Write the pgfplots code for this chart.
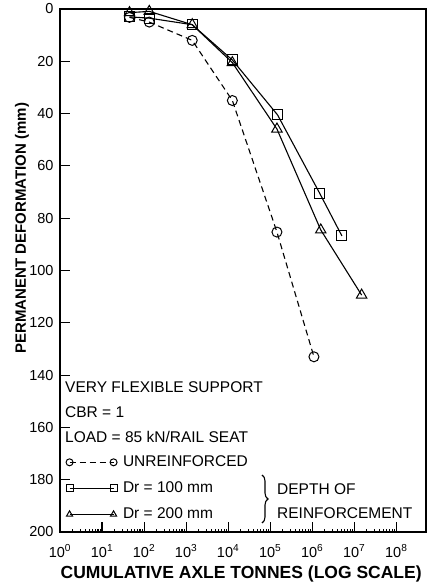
\documentclass[border=0pt]{standalone}
\usepackage{pgfplots}
\pgfplotsset{compat=1.18}
\usepackage{fontspec}
\setmainfont{Liberation Sans}
\usetikzlibrary{decorations.pathreplacing}
\begin{document}
\begin{tikzpicture}
\begin{axis}[
  scale only axis,
  width=366bp, height=523bp,
  xmode=log,
  xmin=1, xmax=5.1e8,
  ymin=0, ymax=200,
  y dir=reverse,
  ytick={0,20,...,200},
  xtick={1,10,100,1000,10000,100000,1000000,10000000,100000000},
  xticklabels={10\textsuperscript{0},10\textsuperscript{1},10\textsuperscript{2},10\textsuperscript{3},10\textsuperscript{4},10\textsuperscript{5},10\textsuperscript{6},10\textsuperscript{7},10\textsuperscript{8}},
  xtick pos=bottom, ytick pos=left,
  tick align=inside,
  major tick length=10bp,
  minor tick num=0,
  log ticks with fixed point=false,
  /pgf/number format/assume math mode=true,
  tick label style={font=\fontsize{14.5bp}{17bp}\selectfont},
  yticklabel style={anchor=east, xshift=-3bp},
  xticklabel style={anchor=base, yshift=-25bp},
  axis line style={line width=1.2bp},
  tick style={line width=1.1bp, black},
  xlabel={\bfseries CUMULATIVE AXLE TONNES (LOG SCALE)},
  xlabel style={font=\fontsize{17.5bp}{20bp}\selectfont, at={(axis description cs:0.495,-0.088)}, anchor=base},
  ylabel={\bfseries PERMANENT DEFORMATION (mm)},
  ylabel style={font=\fontsize{15bp}{18bp}\selectfont, at={(axis description cs:-0.104,0.581)}, anchor=center},
  legend style={draw=none, fill=none, inner sep=0pt, at={(axis description cs:0.016,0.147)}, anchor=north west,
    font=\fontsize{15.5bp}{18bp}\selectfont, row sep=12bp, column sep=6bp,
    nodes={inner sep=0pt, text height=11bp, text depth=3bp}},
  legend cell align=left,
  legend image code/.code={\draw[#1, mark size=3.5bp, mark repeat=2, mark phase=1] plot coordinates {(0bp,0bp) (22bp,0bp) (44bp,0bp)};},
]
\addplot[black, line width=1.1bp, dash pattern=on 6bp off 4bp, mark=o, mark size=5bp, mark options={solid, fill=white, line width=1bp}]
  coordinates {(45,3.2) (133,5) (1400,12) (12600,35) (145000,85.3) (1100000,133)};
\addlegendentry{UNREINFORCED}
\addplot[black, line width=1.1bp, mark=square, mark size=5bp, mark options={solid, fill=white, line width=1bp}]
  coordinates {(45,3) (133,3.5) (1400,6) (12600,19.5) (150000,40.5) (1500000,70.4) (5100000,86.8)};
\addlegendentry{Dr = 100 mm}
\addplot[black, line width=1.1bp, mark=triangle, mark size=6bp, mark options={solid, fill=white, line width=1bp}]
  coordinates {(45,1.4) (133,0.9) (1400,6) (12600,20.5) (145000,45.9) (1600000,84.5) (15000000,109.4)};
\addlegendentry{Dr = 200 mm}
\end{axis}
\begin{scope}[every node/.style={font=\fontsize{15.5bp}{18bp}\selectfont, inner sep=0pt, anchor=base west}]
\node at (5bp,139bp) {VERY FLEXIBLE SUPPORT};
\node at (5bp,114bp) {CBR = 1};
\node at (5bp,89bp) {LOAD = 85 kN/RAIL SEAT};
\node at (217bp,38bp) {DEPTH OF};
\node at (217bp,14bp) {REINFORCEMENT};
\end{scope}
\draw[line width=1.1bp, decorate, decoration={brace, amplitude=6bp}] (202bp,57bp) -- (202bp,9bp);
\pgfresetboundingbox
\path[use as bounding box] (-60bp,-52bp) rectangle (367bp,532bp);
\end{tikzpicture}
\end{document}
